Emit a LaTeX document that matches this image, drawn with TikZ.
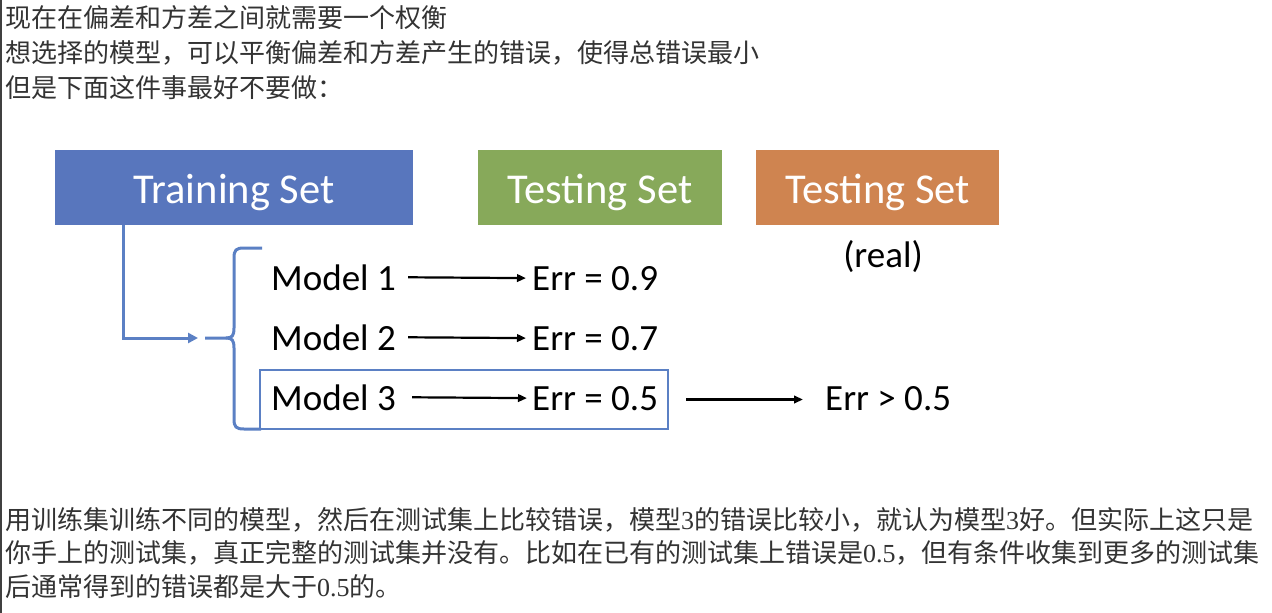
\documentclass[tikz,border=0pt]{standalone}
\usepackage{fontspec}
\setmainfont{Carlito}
\newfontfamily\cjk{Noto Sans CJK SC}
\newfontfamily\dig{Liberation Serif}
\usetikzlibrary{arrows.meta}
\definecolor{tblue}{HTML}{5876BD}
\definecolor{tgreen}{HTML}{87A95A}
\definecolor{torange}{HTML}{CF8450}
\definecolor{lblue}{HTML}{5B80C4}
\definecolor{cjkgray}{HTML}{333333}
\begin{document}
\begin{tikzpicture}[x=1pt,y=-1pt,
  setbox/.style={fill=#1, text=white, minimum height=75pt, inner sep=0pt, text height=34pt, text depth=1.6pt, font=\fontsize{42.5}{46}\selectfont},
  cjktext/.style={anchor=west, inner sep=0pt, text=cjkgray, font=\cjk\fontsize{26}{30}\selectfont},
  lbl/.style={anchor=base west, inner sep=0pt, font=\fontsize{37}{40}\selectfont},
  blk/.style={-{Triangle[length=9pt,width=7.5pt]}, line width=2.2pt},
  blu/.style={draw=lblue, line width=3pt}
]
\useasboundingbox (0,0) rectangle (1272,613);
\fill[white] (0,0) rectangle (1272,613);
\draw[black!75, line width=1.8pt] (0.9,0) -- (0.9,613);

% top text
\node[cjktext] (t1) at (5,18) {现在在偏差和方差之间就需要一个权衡};
\node[cjktext] (t2) at (5,53) {想选择的模型，可以平衡偏差和方差产生的错误，使得总错误最小};
\node[cjktext] (t3) at (5,88) {但是下面这件事最好不要做：};

% set boxes
\node[setbox=tblue, minimum width=358pt] (train) at (234,187) {Training Set};
\node[setbox=tgreen, minimum width=244pt] (test) at (600,187) {Testing Set};
\node[setbox=torange, minimum width=243pt] (real) at (877.5,187) {Testing Set};
\node[inner sep=0pt, font=\fontsize{37}{40}\selectfont] (reallbl) at (883,257) {(real)};

% models and errors
\node[lbl] (m1) at (271,290) {Model 1};
\node[lbl] (e1) at (532,290) {Err = 0.9};
\node[lbl] (m2) at (271,350) {Model 2};
\node[lbl] (e2) at (532,350) {Err = 0.7};
\node[lbl] (m3) at (271,410) {Model 3};
\node[lbl] (e3) at (532,410) {Err = 0.5};
\node[lbl] (e4) at (825,410) {Err > 0.5};

\node[draw=lblue, line width=2.5pt, minimum width=408pt, minimum height=59pt, inner sep=0pt] (m3box) at (464,399.5) {};

\draw[blk, shorten >=6pt] ([xshift=12pt]m1.east) -- (e1.west);
\draw[blk, shorten >=6pt] ([xshift=12pt]m2.east) -- (e2.west);
\draw[blk, shorten >=5pt] ([xshift=16pt]m3.east) -- (e3.west);
\draw[blk, shorten >=22pt] ([xshift=17pt]m3box.east) -- (e4.west |- m3box.east);

% training connector and brace
\coordinate (bracetip) at (205,338);
\draw[blu, -{Triangle[length=10pt,width=10pt]}] ([xshift=-111pt]train.south) |- ([xshift=-7pt]bracetip);
\draw[blu] (262,248) -- (244,248) .. controls (236,248) and (234,250) .. (234,258) -- (234,328)
  .. controls (234,336) and (232,338) .. (226,338) -- (bracetip);
\draw[blu] (226,338) .. controls (232,338) and (234,340) .. (234,348) -- (234,419)
  .. controls (234,427) and (236,429) .. (244,429) -- (261,429);

% bottom text
\node[cjktext] (b1) at (5,519.5) {用训练集训练不同的模型，然后在测试集上比较错误，模型{\dig 3}的错误比较小，就认为模型{\dig 3}好。但实际上这只是};
\node[cjktext] (b2) at (5,553) {你手上的测试集，真正完整的测试集并没有。比如在已有的测试集上错误是{\dig 0.5}，但有条件收集到更多的测试集};
\node[cjktext] (b3) at (5,587) {后通常得到的错误都是大于{\dig 0.5}的。};
\end{tikzpicture}
\end{document}
